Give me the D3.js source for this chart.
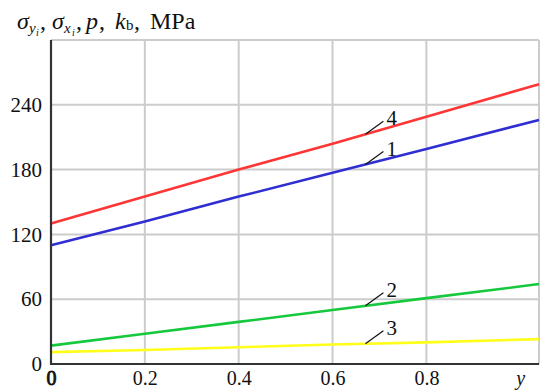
<!DOCTYPE html>
<html>
<head>
<meta charset="utf-8">
<script src="https://cdn.jsdelivr.net/npm/d3@7"></script>
<style>
  html, body { margin: 0; padding: 0; background: #fff; }
  svg { display: block; }
  .grid line { stroke: #cccccc; stroke-width: 2; }
</style>
</head>
<body>
<div id="chart"></div>
<script>
// values
var xTicks = [0, 0.2, 0.4, 0.6, 0.8];
var yTicks = [0, 60, 120, 180, 240];
var xs = [0, 0.2, 0.4, 0.6, 0.8, 1.04];
var curve1 = [110, 132, 155, 177, 199, 226];
var curve2 = [17, 28, 39, 50, 61, 74];
var curve3 = [11, 13, 15.5, 18, 20, 23];
var curve4 = [130, 155, 180, 204, 229, 259];
var curveNames = ["1", "2", "3", "4"];
var curveColors = ["#2e2ed2", "#16c83c", "#ffff1a", "#ff3636"];
var labelAt = 0.67;

// pick a Times-like font that is really installed
var pickFont = function () {
    var ctx = document.createElement("canvas").getContext("2d");
    var probe = "MPa 0.2 σ 240";
    ctx.font = "40px monospace";
    var base = ctx.measureText(probe).width;
    var names = ["Liberation Serif", "Times New Roman", "Tinos", "Nimbus Roman", "Times",
                 "DejaVu Serif Condensed", "DejaVu Serif"];
    for (var i = 0; i < names.length; i++) {
        ctx.font = "40px '" + names[i] + "', monospace";
        if (Math.abs(ctx.measureText(probe).width - base) > 0.5) return "'" + names[i] + "', serif";
    }
    return "serif";
};
var fontFamily = pickFont();

var width = 540, height = 392;
var margin = { left: 51, right: 1, top: 40, bottom: 28 };

var svg = d3.select("#chart").append("svg")
    .attr("width", width)
    .attr("height", height)
    .style("font-family", fontFamily)
    .style("font-stretch", "condensed");

var xScale = d3.scaleLinear().domain([0, 1.04]).range([margin.left, width - margin.right]);
var yScale = d3.scaleLinear().domain([0, 300]).range([height - margin.bottom, margin.top]);

// grid
var grid = svg.append("g").attr("class", "grid");
grid.selectAll(".gx").data(xTicks.slice(1).concat([1.04]))
    .enter().append("line")
    .attr("x1", function (d) { return xScale(d); })
    .attr("x2", function (d) { return xScale(d); })
    .attr("y1", yScale(0)).attr("y2", yScale(300));
grid.selectAll(".gy").data(yTicks.slice(1).concat([300]))
    .enter().append("line")
    .attr("y1", function (d) { return yScale(d); })
    .attr("y2", function (d) { return yScale(d); })
    .attr("x1", xScale(0)).attr("x2", xScale(1.04));

// curves
var series = [curve1, curve2, curve3, curve4];
var line = d3.line()
    .x(function (d, i) { return xScale(xs[i]); })
    .y(function (d) { return yScale(d); });
svg.append("g").selectAll("path").data(series)
    .enter().append("path")
    .attr("d", line)
    .attr("fill", "none")
    .attr("stroke", function (d, i) { return curveColors[i]; })
    .attr("stroke-width", 2.6);

// axes
var xAxis = d3.axisBottom(xScale).tickValues(xTicks.concat([1])).tickSize(0).tickPadding(7)
    .tickFormat(function (d) { return d === 1 ? "y" : (d === 0 ? "0" : d3.format(".1f")(d)); });
var yAxis = d3.axisLeft(yScale).tickValues(yTicks).tickSize(0).tickPadding(9);

var gx = svg.append("g")
    .attr("transform", "translate(0," + yScale(0) + ")")
    .call(xAxis)
    .attr("font-family", null);
gx.select(".domain").remove();
gx.selectAll("text")
    .attr("font-size", 20).attr("fill", "#111")
    .attr("font-style", function (d) { return d === 1 ? "italic" : null; })
    .attr("stroke", function (d) { return d === 0 ? "#111" : null; })
    .attr("stroke-width", 0.8);

var gy = svg.append("g")
    .attr("transform", "translate(" + xScale(0) + ",0)")
    .call(yAxis)
    .attr("font-family", null);
gy.select(".domain").remove();
gy.selectAll("text")
    .attr("font-size", 21).attr("fill", "#111");

svg.append("path")
    .attr("d", "M" + xScale(0) + "," + yScale(300) + "V" + yScale(0) + "H" + xScale(1.04))
    .attr("fill", "none")
    .attr("stroke", "#333")
    .attr("stroke-width", 2.2);

// curve labels with leader lines
var lab = svg.append("g").selectAll("g").data(series)
    .enter().append("g")
    .attr("transform", function (d) {
        var v = d3.scaleLinear().domain(xs).range(d)(labelAt);
        return "translate(" + xScale(labelAt) + "," + yScale(v) + ")";
    });
lab.append("line")
    .attr("x1", 0).attr("y1", 0).attr("x2", 18).attr("y2", -13)
    .attr("stroke", "#111").attr("stroke-width", 1.2);
lab.append("text")
    .attr("x", 21).attr("y", -9)
    .attr("font-size", 21).attr("fill", "#111")
    .text(function (d, i) { return curveNames[i]; });

// title, pieces placed where the reference has them
var title = svg.append("text")
    .attr("y", 29)
    .attr("font-size", 24).attr("fill", "#111");
var piece = function (x, txt, size, dy, italic) {
    title.append("tspan").attr("x", x).attr("y", 29 + dy)
        .attr("font-size", size)
        .attr("font-style", italic ? "italic" : null)
        .text(txt);
};
piece(17, "σ", 24, 0, true);
piece(29, "y", 15, 4, true);
piece(36, "i", 10, 7, true);
piece(40, ",", 24, 0, false);
piece(52, "σ", 24, 0, true);
piece(64, "x", 15, 4, true);
piece(72, "i", 10, 7, true);
piece(76, ",", 24, 0, false);
piece(86, "p", 24, 0, true);
piece(99, ",", 24, 0, false);
piece(115, "k", 24, 0, true);
piece(126, "b", 15, 1, false);
piece(134, ",", 24, 0, false);
piece(150, "MPa", 24, 0, false);
</script>
</body>
</html>
